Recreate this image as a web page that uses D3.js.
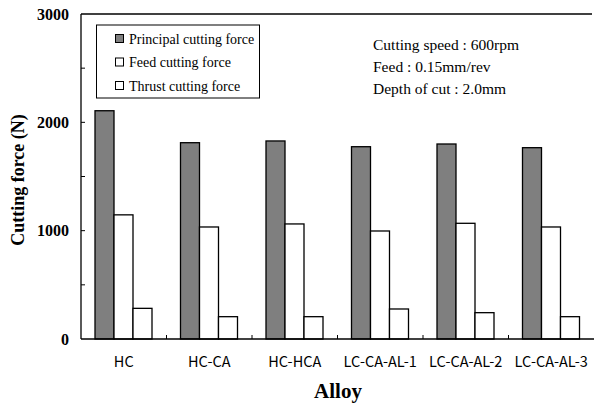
<!DOCTYPE html>
<html><head><meta charset="utf-8">
<script src="https://cdn.jsdelivr.net/npm/d3@7"></script>
<style>body{margin:0;background:#fff}</style>
</head><body>
<svg id="c" width="594" height="405"></svg>
<script>
const categories = ["HC","HC-CA","HC-HCA","LC-CA-AL-1","LC-CA-AL-2","LC-CA-AL-3"];
const seriesNames = ["Principal cutting force","Feed cutting force","Thrust cutting force"];
const principal = [2107,1812,1828,1775,1800,1766];
const feed = [1146,1034,1062,997,1068,1034];
const thrust = [283,206,206,277,243,206];
const yTicks = [0,1000,2000,3000];
const yMinorTicks = [500,1000,1500,2000,2500];
const notes = ["Cutting speed : 600rpm","Feed : 0.15mm/rev","Depth of cut : 2.0mm"];

const series = [principal, feed, thrust];
const fills = ["#7f7f7f","#ffffff","#ffffff"];
const svg = d3.select("#c");
const m = {l:81, r:594, t:14, b:339};
const x = d3.scaleBand().domain(categories).range([m.l, m.r]);
const x1 = d3.scaleBand().domain([0,1,2]).range([14, 71]);
const y = d3.scaleLinear().domain([0,3000]).range([m.b, m.t]);
const serif = "'Liberation Serif','Times New Roman',serif";

// bars
categories.forEach((c,i)=>{
  series.forEach((s,j)=>{
    svg.append("rect")
      .attr("x", x(c)+x1(j)).attr("y", y(s[i]))
      .attr("width", x1.bandwidth()).attr("height", y(0)-y(s[i]))
      .attr("fill", fills[j]).attr("stroke","#000").attr("stroke-width",1.3);
  });
});

// frame lines: left, top, bottom
svg.append("line").attr("x1",m.l).attr("x2",m.l).attr("y1",m.t).attr("y2",m.b).attr("stroke","#000").attr("stroke-width",1.3);
svg.append("line").attr("x1",m.l).attr("x2",592).attr("y1",m.t).attr("y2",m.t).attr("stroke","#000").attr("stroke-width",1.3);
svg.append("line").attr("x1",m.l).attr("x2",594).attr("y1",m.b).attr("y2",m.b).attr("stroke","#000").attr("stroke-width",1.3);

// y minor ticks (inward)
svg.selectAll(".yt").data(yMinorTicks).enter().append("line")
  .attr("x1",m.l).attr("x2",m.l+4).attr("y1",d=>y(d)).attr("y2",d=>y(d)).attr("stroke","#000");
// y labels
svg.selectAll(".yl").data(yTicks).enter().append("text")
  .attr("x",69).attr("y",d=>y(d)+5.5).attr("text-anchor","end")
  .attr("font-family",serif).attr("font-weight","bold").attr("font-size",16).text(d=>d);

// x ticks at boundaries (inward)
categories.slice(1).forEach(c=>{
  svg.append("line").attr("x1",x(c)).attr("x2",x(c)).attr("y1",m.b).attr("y2",m.b-4).attr("stroke","#000");
});
// x labels
svg.selectAll(".xl").data(categories).enter().append("text")
  .attr("x",d=>x(d)+x.bandwidth()/2).attr("y",367).attr("text-anchor","middle")
  .attr("font-family","'Noto Sans CJK JP','DejaVu Sans',sans-serif").attr("font-size",14.5).text(d=>d);

// axis titles
svg.append("text").attr("x",338).attr("y",398).attr("text-anchor","middle")
  .attr("font-family",serif).attr("font-weight","bold").attr("font-size",21).text("Alloy");
svg.append("text").attr("transform","translate(24,180) rotate(-90)").attr("text-anchor","middle")
  .attr("font-family",serif).attr("font-weight","bold").attr("font-size",18).text("Cutting force (N)");

// legend
svg.append("rect").attr("x",96.5).attr("y",25).attr("width",163).attr("height",73)
  .attr("fill","#fff").attr("stroke","#000").attr("stroke-width",1);
seriesNames.forEach((n,j)=>{
  const cy = 39 + j*23.5;
  svg.append("rect").attr("x",115.5).attr("y",cy-4.5).attr("width",8).attr("height",8)
    .attr("fill",fills[j]).attr("stroke","#000").attr("stroke-width",1);
  svg.append("text").attr("x",129).attr("y",cy+4.5).attr("font-family",serif).attr("font-size",14).text(n);
});

// notes
notes.forEach((t,i)=>{
  svg.append("text").attr("x",373).attr("y",50+i*22).attr("font-family",serif).attr("font-size",15.5).text(t);
});
</script>
</body></html>
